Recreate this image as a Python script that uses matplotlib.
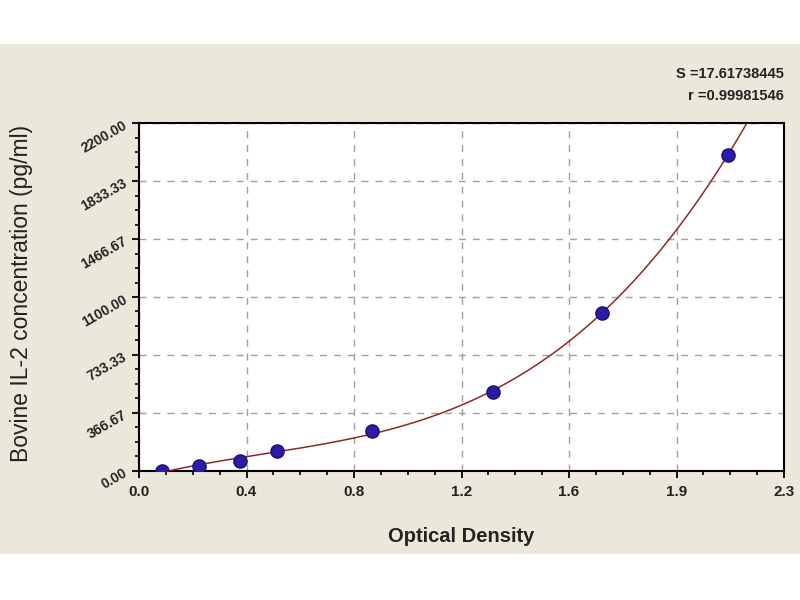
import numpy as np
import matplotlib
matplotlib.use("Agg")
import matplotlib.pyplot as plt
from matplotlib.patches import Rectangle
from matplotlib.ticker import AutoMinorLocator, FixedLocator

plt.rcParams["font.family"] = ["Liberation Sans", "DejaVu Sans"]

# Standard curve points
od = [0.083, 0.215, 0.364, 0.497, 0.842, 1.280, 1.673, 2.127]
conc = [0.0, 31.25, 62.5, 125.0, 250.0, 500.0, 1000.0, 2000.0]

x_max = 2.33
y_max = 2200.0
x_labels = ["0.0", "0.4", "0.8", "1.2", "1.6", "1.9", "2.3"]
y_labels = ["0.00", "366.67", "733.33", "1100.00", "1466.67", "1833.33", "2200.00"]
stats = ["S =17.61738445", "r =0.99981546"]

beige = "#ebe8db"

fig = plt.figure(figsize=(8, 6), dpi=100, facecolor="white")
band = Rectangle((0, 46 / 600), 1, 510 / 600, transform=fig.transFigure,
                 facecolor=beige, edgecolor="none", zorder=-10)
fig.add_artist(band)

ax = fig.add_axes([139 / 800, 1 - 470.7 / 600, (784 - 139) / 800, (470.7 - 123.3) / 600])
ax.set_facecolor("white")

# fitted curve (cubic through the standards)
coef = np.polyfit(od, conc, 3)
xs = np.linspace(od[0], x_max, 300)
ax.plot(xs, np.polyval(coef, xs), color="#8b2a2a", lw=1.1, zorder=3)

ax.plot(od, conc, "o", ms=9.5, color="#2c1aa8", mec="#1a1070", mew=1, zorder=4)

ax.set_xlim(0, x_max)
ax.set_ylim(0, y_max)
ax.xaxis.set_major_locator(FixedLocator(np.linspace(0, x_max, 7)))
ax.yaxis.set_major_locator(FixedLocator(np.linspace(0, y_max, 7)))
ax.set_xticklabels(x_labels, fontsize=11, fontweight="bold", color="#222222")
ax.set_yticklabels(y_labels, fontsize=10, fontweight="bold", color="#222222",
                   rotation=30, ha="right", rotation_mode="anchor")
ax.xaxis.set_minor_locator(AutoMinorLocator(4))
ax.yaxis.set_minor_locator(AutoMinorLocator(4))
ax.tick_params(which="major", length=5, width=1.3, direction="out", pad=5)
ax.tick_params(which="minor", length=3, width=1.2, direction="out")

ax.grid(True, which="major", color="#a0a0a0", linestyle=(0, (5, 5)), lw=1)
for s in ax.spines.values():
    s.set_linewidth(1.5)
    s.set_color("black")

ax.set_xlabel("Optical Density", fontsize=14.5, fontweight="bold", color="#222222")
ax.xaxis.set_label_coords((461 - 139) / 645, -(537 - 470.7) / 347.4)
ax.set_ylabel("Bovine IL-2 concentration (pg/ml)", fontsize=16.5, color="#222222")
ax.yaxis.set_label_coords(-(139 - 22) / 645, (470.7 - 293) / 347.4)
ax.xaxis.label.set_va("center")
ax.yaxis.label.set_va("center")

fig.text(784 / 800, 1 - 74 / 600, stats[0], ha="right", va="center",
         fontsize=10.5, fontweight="bold", color="#222222")
fig.text(784 / 800, 1 - 96 / 600, stats[1], ha="right", va="center",
         fontsize=10.5, fontweight="bold", color="#222222")

fig.savefig("out.png", dpi=100, facecolor="white")
